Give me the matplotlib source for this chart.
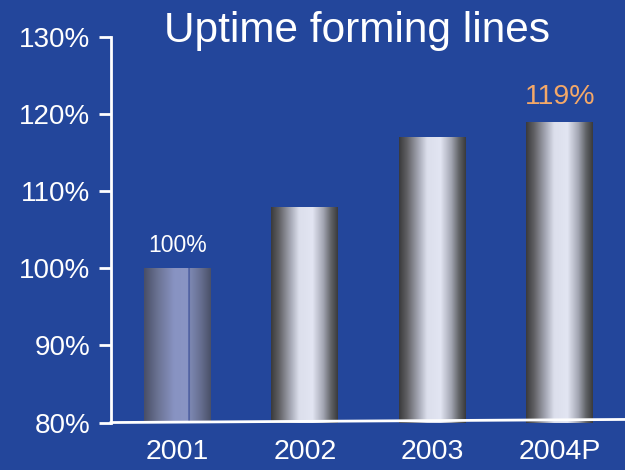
import numpy as np
import matplotlib
matplotlib.use("Agg")
import matplotlib.pyplot as plt
from matplotlib.colors import LinearSegmentedColormap

categories = ["2001", "2002", "2003", "2004P"]
values = [100, 108, 117, 119]
yticks = [80, 90, 100, 110, 120, 130]
ytick_labels = ["80%", "90%", "100%", "110%", "120%", "130%"]
annot_values = {0: "100%", 3: "119%"}

BG = "#23469b"
plt.rcParams['font.family'] = ['Liberation Sans', 'DejaVu Sans']

fig = plt.figure(figsize=(6.25, 4.7), dpi=100, facecolor=BG)
ax = fig.add_axes([0.1776, 0.101, 0.8224, 0.82])
ax.set_facecolor(BG)

x = np.arange(len(categories))
width = 0.525
bars = ax.bar(x, [v - 80 for v in values], bottom=80, width=width, color="none", edgecolor="none", zorder=2)

steel = LinearSegmentedColormap.from_list("steel", [
    (0.0, "#3a3a3c"), (0.12, "#606064"), (0.3, "#a8abb8"), (0.42, "#dcdfec"),
    (0.62, "#e2e5f2"), (0.78, "#a4a7b4"), (0.9, "#606266"), (1.0, "#3a3a3c")])
bluish = LinearSegmentedColormap.from_list("bluish", [
    (0.0, "#484e66"), (0.2, "#6a7292"), (0.45, "#8893c2"), (0.66, "#8a95c4"),
    (0.67, "#2a3f8f"), (0.69, "#7d88b2"), (0.85, "#666e90"), (1.0, "#4a5068")])

grad = np.linspace(0, 1, 256).reshape(1, -1)
for i, b in enumerate(bars):
    x0, y0 = b.get_x(), b.get_y()
    w, h = b.get_width(), b.get_height()
    cmap = bluish if i == 0 else steel
    im = ax.imshow(grad, cmap=cmap, aspect="auto", extent=[x0, x0 + w, y0, y0 + h],
                   interpolation="bilinear", zorder=2)
    im.set_clip_path(b)

ax.set_xlim(-0.52, 3.51)
ax.set_ylim(80, 130)
ax.set_yticks(yticks)
ax.set_yticklabels(ytick_labels)
ax.set_xticks(x)
ax.set_xticklabels(categories)

for s in ["top", "right", "bottom"]:
    ax.spines[s].set_visible(False)
ax.spines["left"].set_color("white")
ax.spines["left"].set_linewidth(2)
ax.tick_params(axis="y", colors="white", labelsize=20, length=9, width=2, pad=6)
ax.tick_params(axis="x", colors="white", labelsize=20.5, length=0, pad=12)

# slightly tilted white base line
ax.plot([-0.52, 3.51], [80, 80.4], color="white", lw=2, clip_on=False, zorder=3)

ax.text(0, values[0] + 1.5, annot_values[0], ha="center", va="bottom", color="white", fontsize=16.5)
ax.text(3, values[3] + 1.5, annot_values[3], ha="center", va="bottom", color="#f4a868", fontsize=20.5)

fig.text(0.571, 0.935, "Uptime forming lines", ha="center", va="center", color="white", fontsize=30.5)

fig.savefig("out.png", dpi=100, facecolor=BG)
